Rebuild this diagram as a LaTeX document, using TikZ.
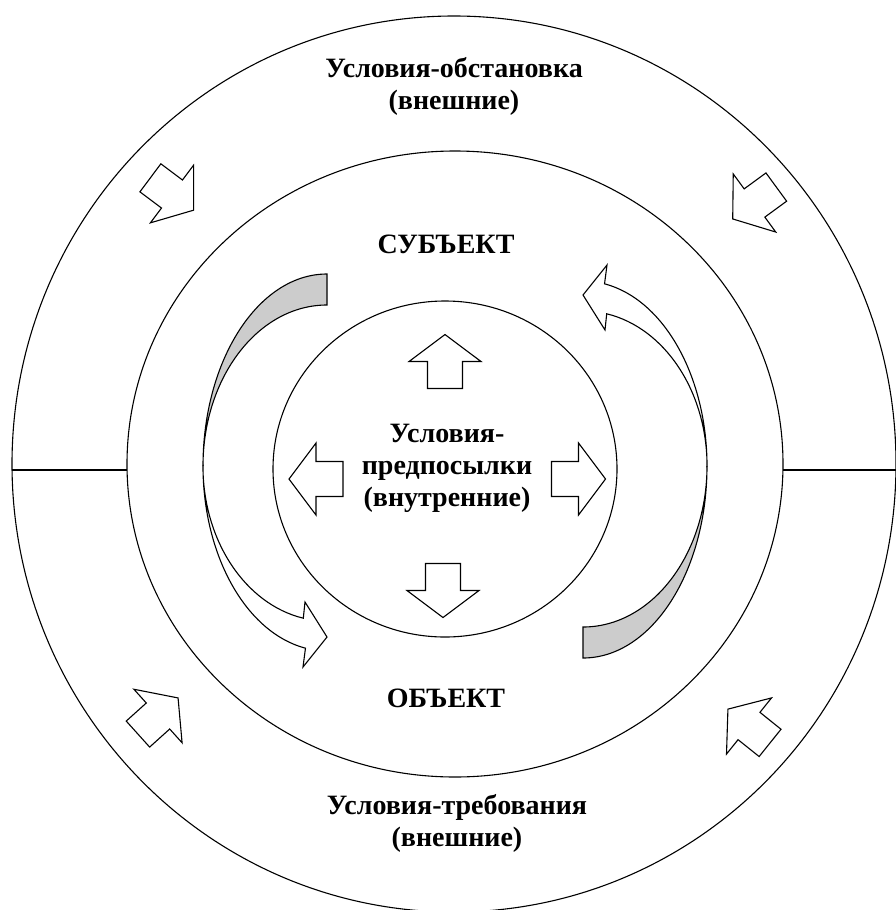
\documentclass[tikz,border=0pt]{standalone}
\usepackage{fontspec}
\setmainfont{Liberation Serif}
\tikzset{
  ring/.style={draw, line width=1.1pt},
  arrowbox/.style={draw, fill=white, line width=1.1pt, line join=miter},
  backpart/.style={draw, fill=black!20, line width=1.1pt},
  ringtext/.style={font=\fontsize{28}{32}\selectfont\bfseries, align=center, inner sep=0pt},
  blockarrow/.pic={\draw[arrowbox] (-27,-17.5) -- (0,-17.5) -- (0,-36) -- (27,0)
      -- (0,36) -- (0,17.5) -- (-27,17.5) -- cycle;}
}
\begin{document}
\begin{tikzpicture}[x=1pt,y=-1pt]
  \useasboundingbox (0,0) rectangle (896,910);
  % three rings
  \draw[ring] (454,464) ellipse [x radius=442, y radius=448];
  \draw[ring] (455,464) ellipse [x radius=328, y radius=313];
  \draw[ring] (445,469) ellipse [x radius=172, y radius=168];
  \coordinate (ol) at (12,470);
  \coordinate (ml) at (127,470);
  \coordinate (mr) at (783,470);
  \coordinate (or) at (896,470);
  \draw[ring] (ol) -- (ml);
  \draw[ring] (mr) -- (or);

  % curved arrows
  \draw[backpart] (327,274) arc[start angle=270, end angle=180, x radius=124, y radius=192]
    arc[start angle=180, end angle=270, x radius=124, y radius=161] -- cycle;
  \draw[arrowbox] (203,466) arc[start angle=180, end angle=100, x radius=124, y radius=185]
    -- (303,667) -- (327,637) -- (305,602) -- (303.3,618.2)
    arc[start angle=101, end angle=180, x radius=124, y radius=155] -- cycle;
  \draw[backpart] (583,658) arc[start angle=90, end angle=0, x radius=124, y radius=192]
    arc[start angle=0, end angle=90, x radius=124, y radius=161] -- cycle;
  \draw[arrowbox] (707,466) arc[start angle=0, end angle=-80, x radius=124, y radius=185]
    -- (607,265) -- (583,295) -- (605,330) -- (606.7,313.8)
    arc[start angle=-79, end angle=0, x radius=124, y radius=155] -- cycle;

  % block arrows
  \pic[rotate=90] at (445,361.5) {blockarrow};
  \pic[rotate=-90] at (443,590.5) {blockarrow};
  \pic[rotate=180] at (316,479) {blockarrow};
  \pic[rotate=0] at (578.5,479) {blockarrow};
  \pic[rotate=-36.8] at (172,194) {blockarrow};
  \pic[rotate=-143.8] at (754.5,203) {blockarrow};
  \pic[rotate=42] at (158,716) {blockarrow};
  \pic[rotate=141.3] at (749,726) {blockarrow};

  \node[ringtext] (envtop) at (454,86) {Условия-обстановка\\(внешние)};
  \node[ringtext] (subj) at (446,244) {СУБЪЕКТ};
  \node[ringtext] (inner) at (447,468) {Условия-\\предпосылки\\(внутренние)};
  \node[ringtext] (obj) at (446,698) {ОБЪЕКТ};
  \node[ringtext] (envbot) at (457,823) {Условия-требования\\(внешние)};
\end{tikzpicture}
\end{document}
